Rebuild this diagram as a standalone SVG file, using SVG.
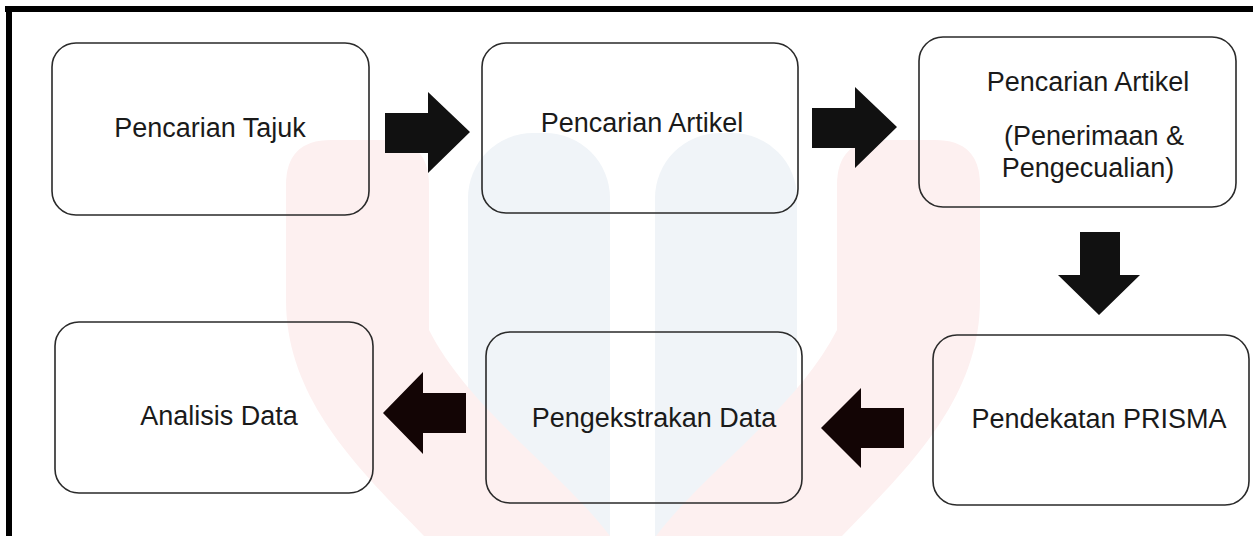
<svg xmlns="http://www.w3.org/2000/svg" width="1253" height="536" viewBox="0 0 1253 536">
<style>
.box{fill:none;stroke:#2a2a2a;stroke-width:1.6}
.lbl{font-family:"Liberation Sans",Arial,sans-serif;font-size:27px;fill:#1a1a1a;text-anchor:middle}
.arT{fill:#111111}
.arB{fill:#130505}
.wmP{fill:#fdf0f0}
.wmB{fill:#f0f4f8}
</style>
<rect width="1253" height="536" fill="#ffffff"/>
<g id="watermark">
<rect class="wmB" x="468" y="133" width="142" height="403" rx="65" ry="65"/>
<rect class="wmB" x="655" y="133" width="142" height="403" rx="65" ry="65"/>
<rect class="wmB" x="468" y="230" width="142" height="306"/>
<rect class="wmB" x="655" y="230" width="142" height="306"/>
<path class="wmP" d="M286,185 Q286,140 331,140 L384,140 Q429,140 429,185 L429,330 C470,410 560,470 610,536 L424,536 C360,470 286,400 286,300 Z"/>
<path class="wmP" d="M980,185 Q980,140 935,140 L882,140 Q837,140 837,185 L837,330 C796,410 706,470 656,536 L842,536 C906,470 980,400 980,300 Z"/>
</g>
<g id="frame">
<rect x="5" y="6" width="1248" height="6" fill="#000"/>
<rect x="6" y="6" width="6" height="530" fill="#000"/>
</g>
<g id="connectors">
<polygon class="arT" points="385,113 428,113 428,92 470,132 428,173 428,153 385,153"/>
<polygon class="arT" points="812,108 855,108 855,87 897,127 855,168 855,148 812,148"/>
<polygon class="arT" points="1080,232 1120,232 1120,275 1140,275 1099,315 1058,275 1080,275"/>
<polygon class="arB" points="904,408 861,408 861,388 821,428 861,468 861,448 904,448"/>
<polygon class="arB" points="466,393 423,393 423,372 383,413 423,454 423,433 466,433"/>
</g>
<g id="node-pencarian-tajuk">
<rect class="box" x="52" y="43" width="317" height="172" rx="24" ry="24"/>
<text class="lbl" x="210" y="137">Pencarian Tajuk</text>
</g>
<g id="node-pencarian-artikel">
<rect class="box" x="482" y="43" width="316" height="170" rx="24" ry="24"/>
<text class="lbl" x="642" y="132">Pencarian Artikel</text>
</g>
<g id="node-penerimaan">
<rect class="box" x="919" y="37" width="317" height="170" rx="24" ry="24"/>
<text class="lbl" x="1088" y="91">Pencarian Artikel</text>
<text class="lbl" x="1094" y="145">(Penerimaan &amp;</text>
<text class="lbl" x="1088" y="177">Pengecualian)</text>
</g>
<g id="node-prisma">
<rect class="box" x="933" y="335" width="316" height="170" rx="24" ry="24"/>
<text class="lbl" x="1099" y="428">Pendekatan PRISMA</text>
</g>
<g id="node-pengekstrakan">
<rect class="box" x="486" y="332" width="316" height="171" rx="24" ry="24"/>
<text class="lbl" x="654" y="427">Pengekstrakan Data</text>
</g>
<g id="node-analisis">
<rect class="box" x="55" y="322" width="318" height="171" rx="24" ry="24"/>
<text class="lbl" x="219" y="425">Analisis Data</text>
</g>
</svg>
